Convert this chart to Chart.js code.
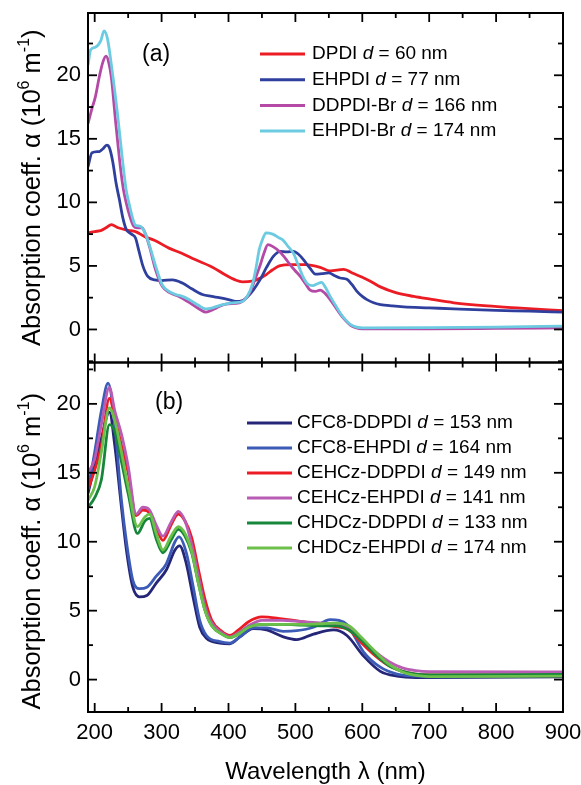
<!DOCTYPE html>
<html><head><meta charset="utf-8">
<script src="https://cdn.jsdelivr.net/npm/chart.js@4/dist/chart.umd.min.js"></script>
<style>html,body{margin:0;padding:0;background:#fff;}#wrap{width:581px;height:785px;position:relative;}</style>
</head><body><div id="wrap"><canvas id="c" width="581" height="785"></canvas></div>
<script>
// ---------- DATA ----------
const wavelengthRange = [190, 900];
const panelARange = [-2.6, 24.9];
const panelBRange = [-2.35, 23.0];
const xTickValues = [200,250,300,350,400,450,500,550,600,650,700,750,800,850,900];
const xTickLabels = ['200','300','400','500','600','700','800','900'];
const yTickValues = [-2.5,0,2.5,5,7.5,10,12.5,15,17.5,20,22.5];
const yTickLabels = ['0','5','10','15','20'];

// Panel (a): [wavelength nm, absorption coeff 10^6 m^-1]
const namesA = ['DPDI', 'EHPDI', 'DDPDI-Br', 'EHPDI-Br'];
const thicknessA = [60, 77, 166, 174];
const DPDI = [[190,7.6],[200,7.7],[210,7.8],[217,8.0],[225,8.25],[235,8.0],[250,7.8],[261,7.7],[275,7.3],[290,7.0],[311,6.4],[330,6.0],[350,5.5],[376,4.9],[395,4.3],[410,3.9],[421,3.75],[435,3.8],[446,4.0],[456,4.3],[466,4.7],[476,5.0],[495,5.1],[515,5.1],[537,4.89],[552,4.6],[572,4.72],[587,4.4],[600,4.1],[612,3.8],[627,3.35],[650,2.9],[677,2.6],[700,2.4],[737,2.1],[787,1.85],[837,1.68],[900,1.48]];
const EHPDI = [[190,12.8],[196,13.9],[207,14.0],[212,14.2],[218,14.5],[222,14.3],[227,13.2],[232,11.5],[237,10.2],[242,8.8],[247,7.9],[255,7.5],[261,7.2],[266,6.2],[272,5.0],[279,4.2],[290,3.9],[300,3.85],[316,3.9],[331,3.65],[345,3.2],[361,2.75],[375,2.6],[386,2.5],[400,2.35],[411,2.2],[420,2.25],[427,2.5],[437,3.1],[447,3.9],[457,4.9],[467,5.75],[477,6.15],[487,6.1],[497,6.15],[505,5.9],[512,5.5],[522,4.8],[530,4.35],[540,4.4],[550,4.45],[558,4.25],[567,4.05],[577,3.95],[585,3.5],[592,3.0],[600,2.6],[607,2.35],[617,2.1],[627,1.96],[645,1.85],[662,1.78],[700,1.7],[737,1.62],[800,1.5],[850,1.44],[900,1.36]];
const DDPDI_Br = [[190,16.2],[196,17.4],[201,18.3],[207,19.9],[212,21.0],[217,21.5],[221,21.0],[225,19.8],[231,16.5],[239,12.5],[243,11.0],[247,10.0],[252,9.0],[258,8.15],[264,8.0],[271,8.0],[276,7.5],[282,6.5],[291,4.7],[301,3.4],[312,2.9],[326,2.6],[346,1.96],[358,1.55],[366,1.36],[374,1.5],[382,1.7],[396,2.0],[416,2.1],[425,2.4],[432,2.9],[440,4.0],[447,5.0],[453,6.0],[459,6.67],[467,6.5],[477,6.1],[485,5.6],[492,5.1],[500,4.6],[507,4.2],[515,3.6],[522,3.1],[530,3.0],[537,3.1],[545,2.8],[552,2.35],[560,1.75],[567,1.2],[575,0.7],[582,0.35],[590,0.15],[600,0.05],[700,0.05],[800,0.08],[900,0.12]];
const EHPDI_Br = [[190,20.8],[194,22.0],[201,22.2],[209,22.7],[214,23.5],[219,22.9],[226,20.4],[234,17.0],[241,13.6],[247,11.0],[251,10.0],[256,8.9],[261,8.2],[266,8.15],[271,8.0],[276,7.5],[282,6.6],[291,5.0],[301,3.5],[311,3.0],[321,2.75],[331,2.6],[341,2.35],[355,1.9],[366,1.62],[376,1.7],[386,1.88],[396,2.0],[406,2.09],[421,2.2],[428,2.6],[436,3.6],[441,4.8],[446,6.3],[451,7.1],[456,7.6],[466,7.5],[476,7.2],[482,7.0],[488,6.6],[497,6.0],[504,5.1],[511,4.2],[518,3.6],[526,3.45],[533,3.6],[539,3.7],[545,3.3],[552,2.6],[560,1.9],[567,1.3],[575,0.75],[582,0.4],[590,0.2],[600,0.13],[700,0.14],[800,0.18],[900,0.27]];

// Panel (b)
const namesB = ['CFC8-DDPDI', 'CFC8-EHPDI', 'CEHCz-DDPDI', 'CEHCz-EHPDI', 'CHDCz-DDPDI', 'CHDCz-EHPDI'];
const thicknessB = [153, 164, 149, 141, 133, 174];
const CFC8_DDPDI = [[190,13.5],[200,15.5],[210,17.5],[222,19.4],[230,17.0],[240,12.5],[248,9.2],[257,6.7],[267,6.0],[278,6.1],[292,7.0],[307,7.95],[320,9.4],[327,9.7],[337,8.4],[347,6.0],[357,3.8],[367,3.0],[387,2.65],[402,2.6],[417,3.1],[437,3.7],[457,3.6],[482,3.1],[502,2.9],[527,3.3],[557,3.6],[577,3.2],[602,1.7],[627,0.6],[652,0.25],[680,0.15],[700,0.15],[900,0.2]];
const CFC8_EHPDI = [[190,13.8],[200,16.5],[210,19.5],[220,21.5],[230,18.5],[240,13.0],[248,9.8],[257,7.2],[267,6.6],[278,6.7],[292,7.5],[307,8.4],[320,10.0],[326,10.35],[337,9.2],[347,6.8],[357,4.3],[367,3.2],[387,2.75],[402,2.65],[417,3.1],[437,3.75],[457,3.75],[482,3.5],[502,3.55],[527,3.8],[552,4.35],[565,4.3],[577,4.0],[602,2.0],[627,0.9],[652,0.4],[680,0.25],[700,0.2],[900,0.3]];
const CEHCz_DDPDI = [[190,13.8],[200,15.2],[210,17.0],[222,20.4],[230,19.0],[240,17.0],[250,15.0],[262,11.9],[272,12.3],[282,12.1],[292,11.0],[302,10.1],[314,11.2],[325,12.0],[335,11.5],[345,10.3],[355,8.0],[365,5.8],[375,4.3],[390,3.5],[402,3.2],[415,3.6],[430,4.2],[450,4.55],[480,4.4],[510,4.2],[540,3.95],[560,3.85],[580,3.6],[600,2.6],[620,1.7],[640,1.0],[660,0.6],[680,0.4],[700,0.35],[900,0.35]];
const CEHCz_EHPDI = [[190,15.0],[200,16.0],[210,18.5],[222,21.2],[230,19.5],[240,17.8],[250,15.5],[262,12.0],[272,12.5],[282,12.3],[292,11.2],[302,10.4],[314,11.4],[325,12.2],[335,11.5],[345,9.8],[355,7.5],[365,5.3],[375,4.1],[390,3.4],[402,3.1],[415,3.4],[430,3.9],[450,4.3],[480,4.3],[510,4.2],[540,4.1],[560,4.0],[580,3.8],[600,2.9],[620,2.0],[640,1.3],[660,0.85],[680,0.65],[700,0.58],[900,0.55]];
const CHDCz_DDPDI = [[190,12.5],[200,13.2],[210,14.5],[222,18.5],[230,18.0],[240,15.8],[250,13.5],[264,10.6],[275,11.5],[282,11.7],[292,10.2],[302,9.2],[314,10.1],[325,10.9],[335,10.4],[345,9.2],[355,7.0],[365,5.0],[375,3.9],[390,3.3],[402,3.05],[415,3.3],[430,3.8],[450,4.0],[480,4.0],[510,3.95],[540,3.9],[560,3.9],[580,3.6],[600,2.8],[620,1.8],[640,1.0],[660,0.6],[680,0.4],[700,0.35],[900,0.38]];
const CHDCz_EHPDI = [[190,13.0],[200,14.0],[210,16.5],[222,19.7],[230,18.8],[240,16.5],[250,14.0],[264,11.1],[275,11.8],[282,12.0],[292,10.6],[302,9.4],[314,10.4],[325,11.1],[335,10.6],[345,9.3],[355,7.0],[365,5.0],[375,3.9],[390,3.3],[402,3.05],[415,3.3],[430,3.8],[450,4.0],[480,4.0],[510,4.0],[540,4.05],[560,4.1],[580,3.9],[600,3.0],[620,2.0],[640,1.1],[660,0.55],[680,0.3],[700,0.22],[900,0.25]];

const seriesA = [DPDI, EHPDI, DDPDI_Br, EHPDI_Br];
const seriesB = [CFC8_DDPDI, CFC8_EHPDI, CEHCz_DDPDI, CEHCz_EHPDI, CHDCz_DDPDI, CHDCz_EHPDI];
const colorsA = ['#ec1c24', '#2f3f9e', '#b44aa6', '#6ccbe0'];
const colorsB = ['#262678', '#3b5bb6', '#ec1c24', '#b95cb3', '#16873a', '#6cc04a'];

// ---------- CHART ----------
const FONT = "'Liberation Sans', Arial, Helvetica, sans-serif";
function toPts(arr) { return arr.map(p => ({x: p[0], y: p[1]})); }
const datasets = [];
seriesA.forEach((s, i) => datasets.push({
  label: namesA[i] + ' d = ' + thicknessA[i] + ' nm', data: toPts(s), yAxisID: 'yA',
  borderColor: colorsA[i], backgroundColor: colorsA[i], borderWidth: 2.8, pointRadius: 0,
  cubicInterpolationMode: 'monotone', fill: false, order: 20 - i
}));
seriesB.forEach((s, i) => datasets.push({
  label: namesB[i] + ' d = ' + thicknessB[i] + ' nm', data: toPts(s), yAxisID: 'yB',
  borderColor: colorsB[i], backgroundColor: colorsB[i], borderWidth: 2.8, pointRadius: 0,
  cubicInterpolationMode: 'monotone', fill: false, order: 10 - i
}));

function yAxis(range) {
  return {
    type: 'linear', position: 'left', stack: 'panels', stackWeight: 1,
    min: range[0], max: range[1],
    grid: {display: false, drawTicks: false}, border: {display: false},
    afterBuildTicks: s => { s.ticks = yTickValues.map(v => ({value: v})); },
    ticks: {autoSkip: false, padding: 7, color: '#000',
      font: {family: FONT, size: 22},
      callback: v => yTickLabels.includes(String(v)) ? String(v) : ''},
    afterFit: s => { s.width = 88; s.paddingTop = 0; s.paddingBottom = 0; }
  };
}

function seg(ctx, x1, y1, x2, y2) { ctx.beginPath(); ctx.moveTo(x1, y1); ctx.lineTo(x2, y2); ctx.stroke(); }

function drawLegend(ctx, names, thick, colors, lx1, lx2, tx, y0, dy) {
  ctx.save();
  ctx.textBaseline = 'middle'; ctx.textAlign = 'left'; ctx.fillStyle = '#000';
  names.forEach((n, i) => {
    const y = y0 + i * dy;
    ctx.strokeStyle = colors[i]; ctx.lineWidth = 3;
    seg(ctx, lx1, y, lx2, y);
    let x = tx;
    ctx.font = '19px ' + FONT;
    ctx.fillText(n + ' ', x, y); x += ctx.measureText(n + ' ').width;
    ctx.font = 'italic 19px ' + FONT;
    ctx.fillText('d', x, y); x += ctx.measureText('d').width;
    ctx.font = '19px ' + FONT;
    ctx.fillText(' = ' + thick[i] + ' nm', x, y);
  });
  ctx.restore();
}

function drawYTitle(ctx, cx, cy) {
  const S = 25.5, s = 16;
  const parts = [['Absorption coeff. ', 0], ['\u03b1', 0], [' (10', 0], ['6', 1], [' m', 0], ['-1', 1], [')', 0]];
  ctx.save();
  ctx.translate(cx, cy); ctx.rotate(-Math.PI / 2);
  ctx.fillStyle = '#000'; ctx.textBaseline = 'alphabetic'; ctx.textAlign = 'left';
  let total = 0;
  parts.forEach(p => { ctx.font = (p[1] ? s : S) + 'px ' + FONT; total += ctx.measureText(p[0]).width; });
  let x = -total / 2;
  const base = S * 0.36;
  parts.forEach(p => {
    ctx.font = (p[1] ? s : S) + 'px ' + FONT;
    ctx.fillText(p[0], x, p[1] ? base - S * 0.42 : base);
    x += ctx.measureText(p[0]).width;
  });
  ctx.restore();
}

const decor = {
  id: 'decor',
  afterDatasetsDraw(chart) {
    const ctx = chart.ctx, area = chart.chartArea, xs = chart.scales.x;
    ctx.save();
    ctx.strokeStyle = '#000';
    for (const id of ['yA', 'yB']) {
      const ys = chart.scales[id];
      const top = ys.top, bot = ys.bottom;
      ctx.lineWidth = 2;
      ctx.strokeRect(area.left, top, area.right - area.left, bot - top);
      ctx.lineWidth = 1.8;
      for (const t of ys.ticks) {
        if (t.value < ys.min || t.value > ys.max) continue;
        const py = ys.getPixelForValue(t.value);
        const len = Math.abs(t.value % 5) < 1e-9 ? 9 : 5;
        seg(ctx, area.left, py, area.left + len, py);
        seg(ctx, area.right - len, py, area.right, py);
      }
      for (const t of xs.ticks) {
        if (t.value < xs.min || t.value > xs.max) continue;
        const px = xs.getPixelForValue(t.value);
        const len = t.value % 100 === 0 ? 9 : 5;
        seg(ctx, px, top, px, top + len);
        seg(ctx, px, bot - len, px, bot);
      }
    }
    ctx.restore();
    const yA = chart.scales.yA, yB = chart.scales.yB;
    ctx.save();
    ctx.fillStyle = '#000'; ctx.font = '23px ' + FONT; ctx.textBaseline = 'middle'; ctx.textAlign = 'left';
    ctx.fillText('(a)', 142, 55);
    ctx.fillText('(b)', 155, 403);
    ctx.restore();
    drawLegend(ctx, namesA, thicknessA, colorsA, 260, 305, 312, 54, 25.7);
    drawLegend(ctx, namesB, thicknessB, colorsB, 247, 292, 297, 423, 25);
    drawYTitle(ctx, 31, (yA.top + yA.bottom) / 2);
    drawYTitle(ctx, 31, (yB.top + yB.bottom) / 2 + 14);
    ctx.save();
    ctx.fillStyle = '#000'; ctx.font = '24px ' + FONT; ctx.textAlign = 'center'; ctx.textBaseline = 'alphabetic';
    ctx.fillText('Wavelength \u03bb (nm)', (area.left + area.right) / 2, 779);
    ctx.restore();
  }
};

new Chart(document.getElementById('c'), {
  type: 'line',
  data: {datasets},
  options: {
    responsive: false, animation: false, devicePixelRatio: 1,
    layout: {padding: {top: 13, right: 18, left: 0, bottom: 0}},
    plugins: {legend: {display: false}, tooltip: {enabled: false}},
    scales: {
      x: {
        type: 'linear', position: 'bottom', min: wavelengthRange[0], max: wavelengthRange[1],
        grid: {display: false, drawTicks: false}, border: {display: false},
        afterBuildTicks: s => { s.ticks = xTickValues.map(v => ({value: v})); },
        ticks: {autoSkip: false, maxRotation: 0, padding: 8, color: '#000',
          font: {family: FONT, size: 22},
          callback: v => xTickLabels.includes(String(v)) ? String(v) : ''},
        afterFit: s => { s.height = 73; s.paddingLeft = 0; s.paddingRight = 0; }
      },
      yB: yAxis(panelBRange),
      yA: yAxis(panelARange)
    }
  },
  plugins: [decor]
});
</script></body></html>
